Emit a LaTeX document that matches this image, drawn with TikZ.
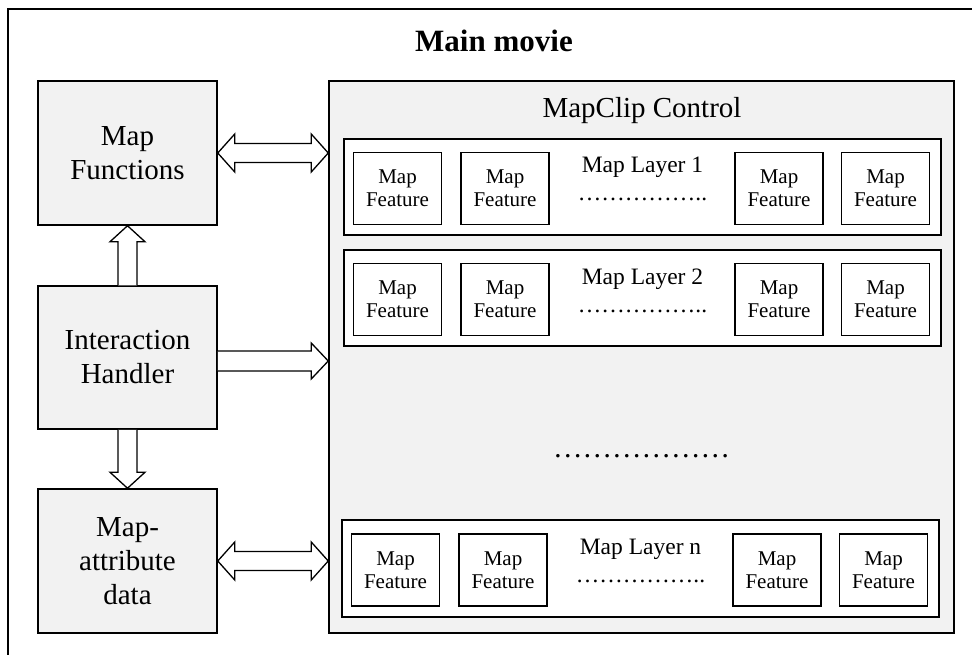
\documentclass[tikz,border=0pt]{standalone}
\usepackage{fontspec}
\setmainfont{Liberation Serif}
\usetikzlibrary{calc}
\definecolor{boxgray}{HTML}{F2F2F2}
\begin{document}
\begin{tikzpicture}[x=1pt,y=-1pt,line width=1.5pt,
  mainbox/.style={draw, fill=boxgray, minimum width=179pt, minimum height=144pt, align=center, font=\fontsize{29}{34}\selectfont},
  layer/.style={draw, fill=white, minimum width=597pt, minimum height=96pt},
  feature/.style={draw, fill=white, minimum width=88pt, minimum height=72pt, inner sep=0pt, align=center, font=\fontsize{21}{23}\selectfont},
  blockarrow/.style={draw, fill=white, line width=1.3pt, line join=miter}]
\useasboundingbox (0,0) rectangle (972,655);
\draw (972,9) -| (8,655);
\node[font=\bfseries\fontsize{31}{36}\selectfont, anchor=base] (title) at (494,52) {Main movie};

\node[mainbox] (mf) at (127.5,153) {Map\\Functions};
\node[mainbox, minimum height=143pt] (ih) at (127.5,357.5) {Interaction\\Handler};
\node[mainbox] (ma) at (127.5,561) {Map-\\attribute\\data};

\node[draw, fill=boxgray, minimum width=625pt, minimum height=552pt] (mc) at (641.5,357) {};
\node[font=\fontsize{29}{34}\selectfont, anchor=base] (mctext) at (642,118) {MapClip Control};

\node[layer] (ly1) at (642.5,187) {};
\node[layer] (ly2) at (642.5,298) {};
\node[layer, minimum height=97pt] (lyn) at (640.5,568.5) {};
\foreach \l/\t in {ly1/1, ly2/2, lyn/n} {
  \node[font=\fontsize{23.5}{28}\selectfont, anchor=base] (\l-t) at ($(\l.center)+(0,-14)$) {Map Layer \t};
  \node[font=\fontsize{23.5}{28}\selectfont, anchor=base] (\l-d) at ($(\l.center)+(0,14)$) {……………..};
  \node[feature] (\l-f1) at ($(\l.center)+(-245,1.5)$) {Map\\Feature};
  \node[feature] (\l-f2) at ($(\l.center)+(-137.5,1.5)$) {Map\\Feature};
  \node[feature] (\l-f3) at ($(\l.center)+(136.5,1.5)$) {Map\\Feature};
  \node[feature] (\l-f4) at ($(\l.center)+(243,1.5)$) {Map\\Feature};
}
\node[font=\fontsize{29.5}{34}\selectfont, anchor=base] (gap) at (641.5,457) {………………};

% block arrows
\coordinate (mfr) at (mf.east -| mc.west);
\draw[blockarrow] (mf.east) -- ++(17,-19) -- ++(0,9.5) -- ($(mfr)+(-17,-9.5)$) -- ++(0,-9.5) -- (mfr)
  -- ++(-17,19) -- ++(0,-9.5) -- ($(mf.east)+(17,9.5)$) -- ++(0,9.5) -- cycle;
\coordinate (mar) at (ma.east -| mc.west);
\draw[blockarrow] (ma.east) -- ++(17,-19) -- ++(0,9.5) -- ($(mar)+(-17,-9.5)$) -- ++(0,-9.5) -- (mar)
  -- ++(-17,19) -- ++(0,-9.5) -- ($(ma.east)+(17,9.5)$) -- ++(0,9.5) -- cycle;
\coordinate (ihs) at ($(ih.east)+(0,3.5)$);
\coordinate (ihr) at (ihs -| mc.west);
\draw[blockarrow] ($(ihs)+(0,-10)$) -- ($(ihr)+(-17,-10)$) -- ++(0,-8) -- (ihr)
  -- ++(-17,18) -- ++(0,-8) -- ($(ihs)+(0,10)$);
\draw[blockarrow] ($(ih.north)+(-9.5,0)$) -- ($(mf.south)+(-9.5,16)$) -- ++(-8,0) -- (mf.south)
  -- ++(17.5,16) -- ++(-8,0) -- ($(ih.north)+(9.5,0)$);
\draw[blockarrow] ($(ih.south)+(-9.5,0)$) -- ($(ma.north)+(-9.5,-16)$) -- ++(-8,0) -- (ma.north)
  -- ++(17.5,-16) -- ++(-8,0) -- ($(ih.south)+(9.5,0)$);

\end{tikzpicture}
\end{document}
